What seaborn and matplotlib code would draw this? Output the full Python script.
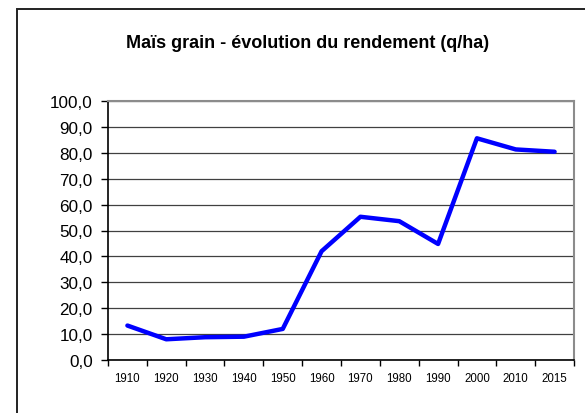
import matplotlib
matplotlib.use("Agg")
import matplotlib.pyplot as plt
import seaborn as sns
import pandas as pd
import numpy as np
from matplotlib.patches import Rectangle
from matplotlib.ticker import FixedLocator, FuncFormatter

# Data
years = ["1910", "1920", "1930", "1940", "1950", "1960",
         "1970", "1980", "1990", "2000", "2010", "2015"]
yields = [13.3, 8.0, 8.8, 9.0, 12.0, 42.0, 55.3, 53.6, 44.8, 85.6, 81.3, 80.4]
title = "Maïs grain - évolution du rendement (q/ha)"

df = pd.DataFrame({"annee": years, "rendement": yields})

sns.set_style("white")
plt.rcParams['font.family'] = ['Liberation Sans', 'DejaVu Sans']
plt.rcParams['text.color'] = 'black'
plt.rcParams['xtick.color'] = 'black'
plt.rcParams['ytick.color'] = 'black'

fig = plt.figure(figsize=(5.85, 4.14), dpi=100)
ax = fig.add_axes([108 / 585, 1 - 361 / 414, (574 - 108) / 585, (361 - 102) / 414])

# outer chart frame (only left/top edges visible in the crop)
fig.patches.append(Rectangle((17 / 585, -0.1), 1.2, 1 - 10 / 414 + 0.1,
                             transform=fig.transFigure, fill=False,
                             edgecolor="#222222", linewidth=1.4))

sns.lineplot(data=df, x="annee", y="rendement", ax=ax, color="#0000FF",
             linewidth=3.2, sort=False)

n = len(years)
ax.set_xlim(-0.5, n - 0.5)
ax.set_ylim(0, 100)
ax.set_xlabel("")
ax.set_ylabel("")

# y axis
ax.set_yticks(np.arange(0, 101, 10))
ax.yaxis.set_major_formatter(FuncFormatter(lambda v, p: f"{v:.1f}".replace(".", ",")))
ax.tick_params(axis="y", direction="out", length=5, width=1, color="black",
               labelcolor="black", labelsize=12.3, pad=6, left=True)
ax.yaxis.grid(True, color="#404040", linewidth=0.9)
ax.set_axisbelow(True)

# x axis: labels centred in categories, ticks at category boundaries
ax.set_xticks(range(n))
ax.set_xticklabels(years)
ax.tick_params(axis="x", which="major", length=0, labelsize=8.3, pad=9,
               labelcolor="black")
ax.xaxis.set_minor_locator(FixedLocator(np.arange(-0.5, n, 1)))
ax.tick_params(axis="x", which="minor", direction="out", length=4, width=1,
               color="black", bottom=True)

for side in ["left", "bottom"]:
    ax.spines[side].set_color("black")
    ax.spines[side].set_linewidth(1.2)
for side in ["top", "right"]:
    ax.spines[side].set_visible(True)
    ax.spines[side].set_color("#8c8c8c")
    ax.spines[side].set_linewidth(1.5)

fig.text(308 / 585, 1 - 44 / 414, title, ha="center", va="center",
         fontsize=13, fontweight="bold", color="black")

fig.savefig("out.png", dpi=100)
